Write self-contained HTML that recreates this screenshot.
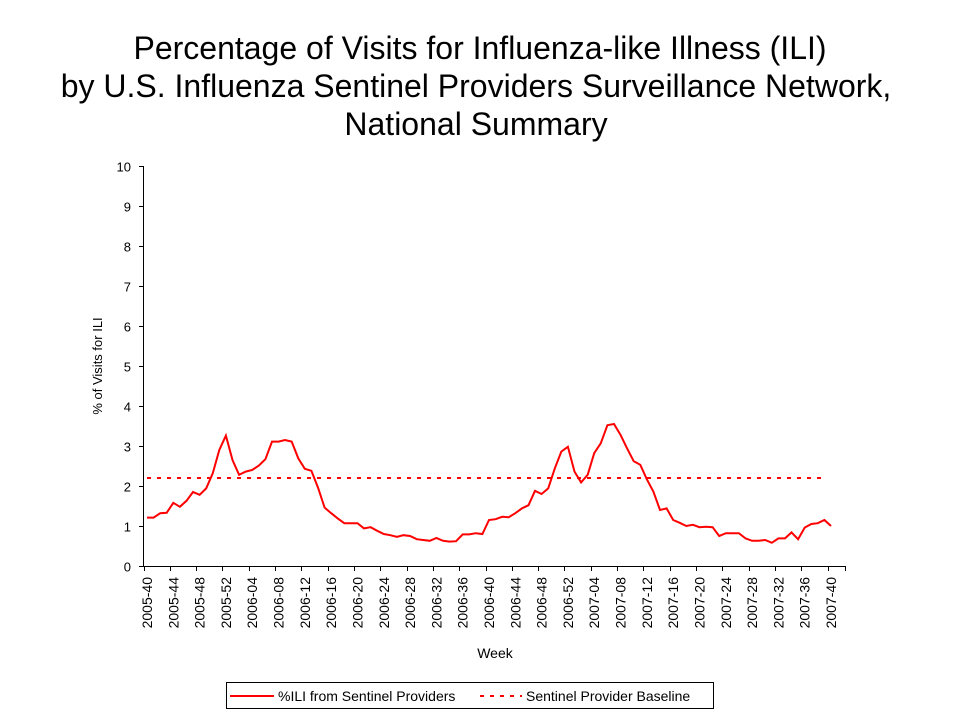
<!DOCTYPE html>
<html><head><meta charset="utf-8"><style>
body{margin:0;background:#fff;width:960px;height:720px;overflow:hidden;font-family:"Liberation Sans",Arial,sans-serif}
</style></head><body>
<svg id="c" width="960" height="720" xmlns="http://www.w3.org/2000/svg" font-family="Liberation Sans, Arial, sans-serif">
<g font-size="32" text-anchor="middle" fill="#000">
<text x="480" y="59">Percentage of Visits for Influenza-like Illness (ILI)</text>
<text x="476" y="97">by U.S. Influenza Sentinel Providers Surveillance Network,</text>
<text x="476" y="135">National Summary</text>
</g>
<text font-size="13" text-anchor="middle" transform="translate(102,366) rotate(-90)">% of Visits for ILI</text>
<text font-size="14" text-anchor="middle" x="495" y="658">Week</text>
<g id="axes"></g>
<g id="marks"></g>
<g>
<rect x="226.5" y="682.5" width="487" height="26" fill="#fff" stroke="#000"/>
<line x1="230" y1="696" x2="274" y2="696" stroke="#f00" stroke-width="2"/>
<text x="278" y="701" font-size="14">%ILI from Sentinel Providers</text>
<line x1="480" y1="696" x2="522" y2="696" stroke="#f00" stroke-width="2" stroke-dasharray="4,6"/>
<text x="526" y="701" font-size="14">Sentinel Provider Baseline</text>
</g>
</svg>
<script>
const iliValues=[1.21,1.21,1.32,1.33,1.58,1.48,1.63,1.85,1.78,1.94,2.32,2.9,3.26,2.65,2.28,2.36,2.4,2.51,2.67,3.11,3.11,3.15,3.11,2.69,2.43,2.38,1.96,1.46,1.32,1.19,1.07,1.07,1.07,0.94,0.97,0.88,0.8,0.77,0.73,0.77,0.75,0.67,0.65,0.63,0.7,0.63,0.61,0.62,0.79,0.79,0.82,0.8,1.15,1.17,1.23,1.22,1.32,1.44,1.52,1.88,1.8,1.94,2.44,2.86,2.98,2.36,2.09,2.28,2.82,3.07,3.52,3.55,3.28,2.94,2.62,2.53,2.17,1.86,1.4,1.44,1.15,1.08,1.0,1.03,0.97,0.98,0.97,0.75,0.82,0.82,0.82,0.69,0.63,0.63,0.65,0.58,0.69,0.69,0.84,0.67,0.96,1.05,1.07,1.15,1.0];
const baselineValue=2.2;
const yTicks=[0,1,2,3,4,5,6,7,8,9,10];
const weekStart={year:2005,week:40};
const NS='http://www.w3.org/2000/svg';
const x0=147,x1=831,yb=566,yt=166;
const n=iliValues.length;
const step=(x1-x0)/(n-1);
function xs(i){return x0+i*step;}
function ys(v){return yb-(v/10)*(yb-yt);}
function mk(t,a,p){const e=document.createElementNS(NS,t);for(const k in a)e.setAttribute(k,a[k]);p.appendChild(e);return e;}
function weekLabel(i){let y=weekStart.year,w=weekStart.week+i;while(w>52){w-=52;y++;}return y+'-'+String(w).padStart(2,'0');}
const ax=document.getElementById('axes'),mg=document.getElementById('marks');
const yaxis=mk('line',{x1:143.5,y1:yt,x2:143.5,y2:yb,stroke:'#000'},ax);


const xaxis=mk('line',{x1:143,y1:yb+0.5,x2:846,y2:yb+0.5,stroke:'#000'},ax);


yTicks.forEach(v=>{
 const y=Math.round(ys(v))+0.5;
 mk('line',{x1:139,y1:y,x2:144,y2:y,stroke:'#000'},ax);
 const t=mk('text',{x:131,y:y+5,'font-size':13,'text-anchor':'end'},ax);
 t.textContent=v;
 
 
});
for(let i=0;i<n;i+=4){
 const x=Math.round(xs(i)-3.5)+0.5;
 mk('line',{x1:x,y1:yb,x2:x,y2:yb+5,stroke:'#000'},ax);
 const t=mk('text',{x:0,y:0,'font-size':14,'text-anchor':'end',transform:`translate(${xs(i)+5},${yb+11}) rotate(-90)`},ax);
 t.textContent=weekLabel(i);
 
 
}
mk('line',{x1:846-0.5,y1:yb,x2:846-0.5,y2:yb+5,stroke:'#000'},ax);
const bl=mk('line',{x1:x0,y1:ys(baselineValue),x2:x1-4,y2:ys(baselineValue),stroke:'#f00','stroke-width':2,'stroke-dasharray':'4,6'},mg);


const pl=mk('polyline',{points:iliValues.map((v,i)=>xs(i).toFixed(1)+','+ys(v).toFixed(1)).join(' '),fill:'none',stroke:'#f00','stroke-width':2},mg);


</script>
</body></html>
